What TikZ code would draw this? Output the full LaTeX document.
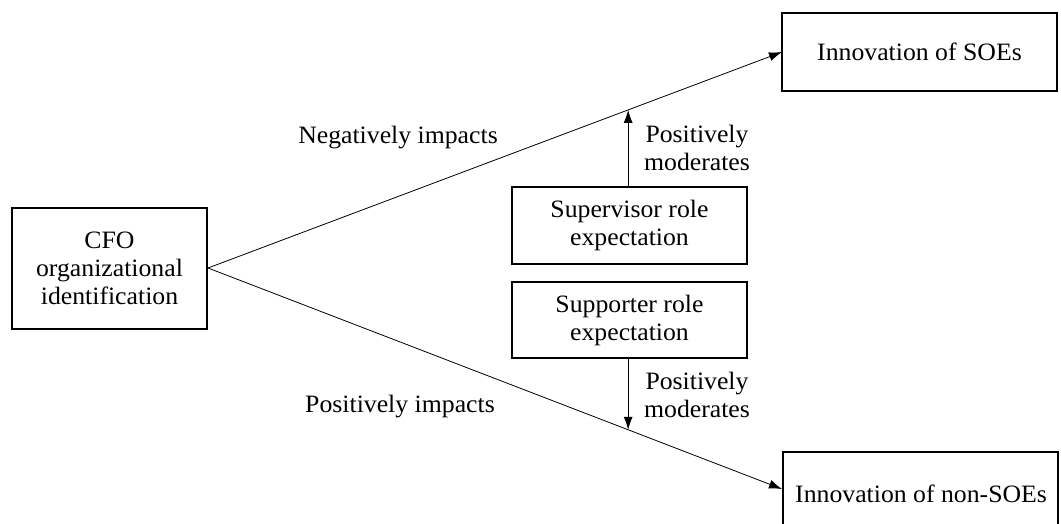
\documentclass[tikz,border=0pt]{standalone}
\usepackage{fontspec}
\setmainfont{Liberation Serif}[FakeStretch=1.03]
\usetikzlibrary{arrows.meta}
\begin{document}
\begin{tikzpicture}[x=1pt,y=-1pt,
  txt/.style={font=\fontsize{25}{28}\selectfont},
  box/.style={draw=black,line width=2pt,align=center,txt},
  lbl/.style={align=center,txt,inner sep=0pt},
  conn/.style={line width=0.8pt,-{Latex[length=13pt,width=9pt]}}]
\useasboundingbox (0,0) rectangle (1061,523);
\begin{scope}
\clip (0,0) rectangle (1061,523);
\node[box,minimum width=195pt,minimum height=121pt] (cfo) at (109.5,268) {CFO\\organizational\\identification};
\node[box,minimum width=275pt,minimum height=78pt] (soe) at (919.5,52) {Innovation of SOEs};
\node[draw=black,line width=2pt,minimum width=275pt,minimum height=90pt,anchor=north west] (nsoe) at (782,451) {};
\node[txt,anchor=west,inner sep=0pt] (nsoet) at (795,494) {Innovation of non-SOEs};
\node[box,minimum width=235pt,minimum height=77pt] (sup) at (629.5,225.5) {Supervisor role\\expectation};
\node[box,minimum width=235pt,minimum height=76pt] (spt) at (629.5,320) {Supporter role\\expectation};
\end{scope}
\coordinate (se) at (782,52);
\coordinate (ne) at (782,489);
\draw[conn] (cfo.east) -- (se) coordinate[pos=0.732] (m1);
\draw[conn] (cfo.east) -- (ne) coordinate[pos=0.732] (m2);
\draw[conn] (sup.north -| m1) -- (m1);
\draw[conn] (spt.south -| m2) -- (m2);
\node[lbl] (l1) at (398,138) {Negatively impacts};
\node[lbl] (l2) at (400,407) {Positively impacts};
\node[lbl] (l3) at (697,148) {Positively\\moderates};
\node[lbl] (l4) at (697,395) {Positively\\moderates};
\end{tikzpicture}
\end{document}
